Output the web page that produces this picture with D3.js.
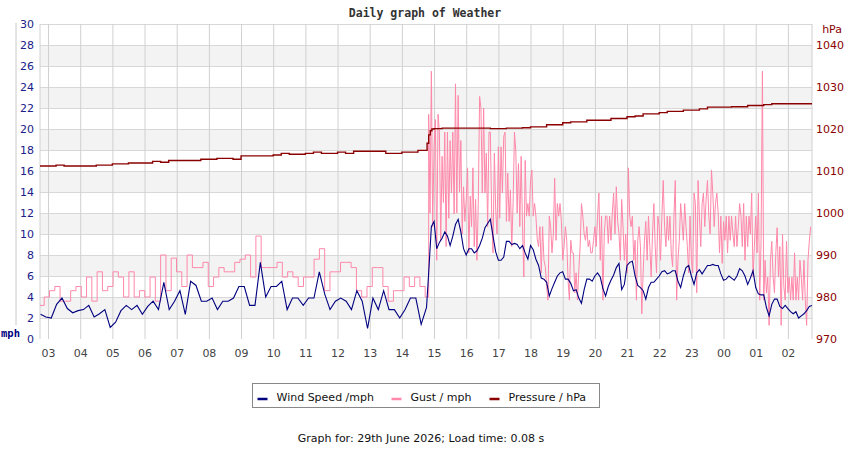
<!DOCTYPE html>
<html>
<head>
<meta charset="utf-8">
<script src="https://cdn.jsdelivr.net/npm/d3@7"></script>
<style>
  body { margin: 0; background: #fff; }
  svg { display: block; font-family: "DejaVu Sans", sans-serif; }
</style>
</head>
<body>
<script>
// wind speed, mph - 10 minute readings from 02:46
const windEarly = [
  2.35, 2.1, 2.0, 3.3, 3.9, 2.9, 2.5, 2.7, 2.8, 3.2,
  2.1, 2.4, 2.8, 1.1, 1.6, 2.7, 3.2, 2.8, 3.2, 2.35,
  3.1, 3.6, 2.8, 5.4, 2.8, 3.6, 4.6, 2.35, 5.5, 5.1,
  3.6, 3.6, 3.9, 2.8, 3.6, 3.6, 3.9, 5.0, 5.0, 3.2,
  3.2, 7.3, 4.0, 5.0, 5.0, 5.5, 2.8, 3.9, 3.9, 3.2,
  3.9, 3.9, 6.4, 4.3, 2.8, 3.6, 3.9, 3.6, 2.8, 4.6,
  3.6, 1.0, 3.9, 2.8, 4.6, 2.8, 2.8, 2.0, 2.8, 3.9,
  3.9, 1.4, 3.0
];
// wind speed, mph - 5 minute readings from 14:50
const windLate = [
  6.3, 10.7, 11.2, 8.6, 9.2, 9.6, 10.2, 9.8, 8.9, 9.8,
  10.9, 11.4, 10.2, 8.6, 8.0, 8.6, 8.6, 8.2, 8.4, 8.9,
  9.6, 10.6, 11.0, 11.4, 9.8, 8.3, 7.5, 7.5, 7.8, 9.3,
  9.3, 9.0, 9.1, 9.0, 8.6, 8.9, 8.2, 7.6, 8.9, 8.5,
  7.6, 7.0, 5.8, 5.7, 5.4, 4.1, 4.8, 5.4, 6.0, 6.3,
  6.4, 5.7, 5.7, 5.3, 4.6, 4.7, 3.9, 3.4, 4.7, 5.7,
  5.7, 5.5, 6.0, 6.3, 5.9, 4.8, 4.1, 5.0, 5.6, 6.1,
  6.8, 7.2, 4.7, 5.2, 7.0, 7.3, 7.4, 6.0, 5.1, 4.9,
  4.6, 3.8, 4.9, 5.4, 5.4, 5.7, 6.0, 6.4, 6.5, 6.2,
  6.3, 6.5, 6.5, 5.5, 4.9, 6.0, 6.8, 7.0, 6.0, 5.2,
  6.3, 6.6, 6.2, 6.6, 7.0, 7.0, 7.1, 7.0, 7.0, 6.2,
  5.6, 5.7, 6.0, 5.8, 5.6, 6.0, 6.7, 6.5, 6.0, 5.2,
  5.8, 6.5, 4.9, 4.3, 4.2, 4.2, 3.0, 2.2, 3.3, 3.8,
  3.8, 3.1, 2.9, 3.2, 2.9, 2.6, 2.4, 2.6, 2.0, 2.2,
  2.4, 2.7, 3.1, 3.2
];
// gust, mph - readings from 02:43, just under 10 minutes apart
const gustEarly = [
  3.2, 4.0, 4.6, 5.0, 3.6, 3.6, 4.6, 5.0, 4.0, 5.9,
  3.6, 6.4, 4.6, 5.0, 6.4, 5.9, 4.0, 6.4, 4.0, 4.6,
  4.0, 5.9, 3.6, 8.0, 4.6, 7.7, 6.4, 5.0, 8.0, 6.8,
  6.8, 7.3, 5.0, 5.9, 6.8, 6.4, 6.4, 7.3, 7.6, 8.0,
  5.9, 9.8, 6.8, 6.8, 6.8, 7.3, 5.9, 6.4, 5.9, 5.0,
  5.9, 5.9, 7.6, 8.6, 4.6, 6.4, 6.4, 7.3, 7.3, 6.8,
  4.6, 4.0, 5.0, 6.8, 6.8, 5.0, 3.6, 4.6, 4.6, 5.9,
  5.0, 5.9, 5.0, 4.0
];
// gust, mph - 2.5 minute readings from 14:50
const gustLate = [
  21.4, 12.0, 25.5, 10.7, 18.3, 20.9, 7.5, 21.4, 19.7, 9.4,
  17.4, 13.0, 19.7, 8.8, 19.7, 11.5, 18.9, 13.9, 19.7, 11.9,
  24.3, 12.0, 23.2, 14.0, 18.9, 10.0, 14.5, 11.2, 13.3, 16.3,
  8.2, 13.6, 10.7, 16.3, 8.8, 13.3, 7.5, 12.9, 23.1, 22.0,
  13.9, 22.0, 13.9, 17.7, 10.7, 19.7, 19.7, 12.0, 8.2, 17.7,
  12.3, 10.0, 18.3, 11.5, 18.3, 13.9, 19.3, 19.7, 11.2, 15.8,
  11.2, 14.2, 8.8, 13.0, 19.7, 17.9, 12.0, 16.7, 10.7, 17.4,
  10.7, 5.9, 17.0, 11.7, 12.9, 11.7, 15.1, 16.1, 11.7, 12.9,
  11.7, 9.5, 8.8, 10.7, 6.3, 10.7, 7.5, 6.9, 5.0, 3.7,
  11.7, 10.7, 8.2, 10.0, 15.3, 9.4, 12.9, 11.7, 12.9, 11.2,
  7.5, 8.8, 10.7, 9.4, 5.6, 3.7, 9.4, 8.2, 8.2, 4.4,
  6.3, 3.7, 6.5, 8.8, 12.9, 11.7, 10.0, 9.4, 10.7, 8.8,
  9.4, 8.2, 8.2, 9.4, 10.7, 8.8, 11.7, 13.9, 7.5, 11.7,
  3.7, 10.0, 11.7, 11.7, 9.1, 11.7, 9.4, 12.0, 13.9, 10.0,
  14.5, 11.2, 10.0, 7.5, 13.3, 10.7, 7.5, 10.0, 6.3, 16.3,
  11.7, 10.7, 11.7, 7.5, 9.4, 3.7, 9.4, 10.7, 8.8, 2.4,
  6.3, 9.4, 11.2, 7.5, 11.7, 8.8, 5.9, 10.0, 12.9, 8.8,
  6.3, 11.7, 10.7, 7.5, 11.7, 15.1, 10.7, 8.8, 11.7, 9.4,
  11.7, 8.2, 6.9, 11.7, 15.1, 3.7, 7.5, 9.4, 12.9, 11.2,
  9.4, 12.9, 10.7, 8.8, 6.3, 11.7, 7.5, 6.3, 13.9, 12.9,
  4.4, 15.1, 11.7, 8.8, 12.9, 13.9, 10.7, 13.3, 15.1, 11.7,
  10.0, 16.1, 13.9, 10.7, 12.9, 13.9, 12.0, 8.2, 11.7, 7.2,
  11.2, 9.4, 11.7, 8.2, 11.7, 9.4, 11.7, 10.0, 8.8, 11.7,
  8.8, 10.7, 12.9, 11.7, 8.8, 12.9, 7.5, 11.7, 8.8, 11.7,
  10.0, 13.9, 5.9, 8.8, 11.7, 8.2, 13.9, 3.7, 9.4, 25.5,
  3.7, 7.5, 4.4, 5.9, 1.3, 7.5, 9.3, 5.9, 4.4, 8.2,
  10.6, 5.9, 8.8, 1.3, 10.0, 5.0, 3.7, 9.3, 4.4, 5.9,
  3.7, 5.9, 3.7, 8.2, 3.7, 5.9, 3.7, 7.5, 5.9, 3.7,
  7.5, 3.7, 1.3, 7.5, 9.3, 10.7
];
// pressure, hPa - 15 minute readings from 02:45
const pressureEarly = [
  1011.2, 1011.2, 1011.4, 1011.2, 1011.2, 1011.2, 1011.2, 1011.4, 1011.4, 1011.7,
  1011.7, 1011.9, 1011.9, 1011.9, 1012.3, 1012.1, 1012.5, 1012.5, 1012.5, 1012.5,
  1012.8, 1012.8, 1013.0, 1013.0, 1012.8, 1013.6, 1013.6, 1013.6, 1013.6, 1013.8,
  1014.2, 1014.0, 1014.0, 1014.2, 1014.5, 1014.2, 1014.2, 1014.5, 1014.2, 1014.7,
  1014.7, 1014.7, 1014.7, 1014.2, 1014.2, 1014.5, 1014.5, 1014.9, 1014.9
];
// pressure, hPa - 3 minute readings from 14:47 (the jump)
const pressureRise = [1016.6, 1018.6, 1019.6, 1020.0];
// pressure, hPa - 15 minute readings from 15:00
const pressureLate = [
  1020.1, 1020.2, 1020.2, 1020.2, 1020.2, 1020.2, 1020.2, 1020.1, 1020.1, 1020.2,
  1020.2, 1020.3, 1020.5, 1020.5, 1021.0, 1021.0, 1021.5, 1021.7, 1021.7, 1022.1,
  1022.1, 1022.1, 1022.5, 1022.5, 1022.9, 1023.1, 1023.6, 1023.6, 1023.9, 1024.2,
  1024.2, 1024.5, 1024.5, 1024.8, 1025.2, 1025.2, 1025.2, 1025.3, 1025.3, 1025.6,
  1025.6, 1025.8, 1026.0, 1026.0, 1026.0, 1026.0, 1026.0, 1026.0
];

const mphTicks = [0, 2, 4, 6, 8, 10, 12, 14, 16, 18, 20, 22, 24, 26, 28, 30];
const hpaTicks = [970, 980, 990, 1000, 1010, 1020, 1030, 1040];
const legendItems = [
  { label: "Wind Speed /mph", color: "#000080" },
  { label: "Gust / mph", color: "#ff88aa" },
  { label: "Pressure / hPa", color: "#8b0000" }
];

const parse = d3.timeParse("%Y-%m-%d %H:%M");
const series = (start, stepMin, values) => {
  const t0 = parse(start);
  return values.map((v, i) => ({ t: new Date(+t0 + i * stepMin * 60000), v }));
};

const wind = series("2026-06-28 02:46", 10, windEarly)
  .concat(series("2026-06-28 14:50", 5, windLate));
const gustA = series("2026-06-28 02:43", 9.87, gustEarly);
const gustB = series("2026-06-28 14:50", 2.5, gustLate);
const pressure = series("2026-06-28 02:45", 15, pressureEarly)
  .concat(series("2026-06-28 14:47", 3, pressureRise))
  .concat(series("2026-06-28 15:00", 15, pressureLate));

const margin = { top: 24, right: 38, bottom: 111, left: 40 },
  width = 850 - margin.left - margin.right,
  height = 450 - margin.top - margin.bottom;

const x = d3.scaleTime()
  .domain([parse("2026-06-28 02:45"), parse("2026-06-29 02:45")])
  .range([0, width]);
const yL = d3.scaleLinear().domain([0, 30]).range([height, 0]);
const yR = d3.scaleLinear().domain([970, 1045]).range([height, 0]);

const svg = d3.select("body").append("svg")
  .attr("width", 850)
  .attr("height", 450);

svg.append("text")
  .attr("x", 425).attr("y", 17)
  .attr("text-anchor", "middle")
  .style("font-family", "'DejaVu Sans Mono', monospace")
  .style("font-weight", "bold")
  .style("font-size", "11.5px")
  .attr("fill", "#333")
  .text("Daily graph of Weather");

// odd little rule left of the scale
svg.append("line")
  .attr("x1", 16).attr("x2", 16).attr("y1", 23).attr("y2", 325)
  .attr("stroke", "#c8c8c8");

const g = svg.append("g")
  .attr("transform", `translate(${margin.left},${margin.top})`);

// shaded bands every other 2 mph
g.selectAll(".band")
  .data(mphTicks.filter((d, i) => i % 2 === 1 && d < 30))
  .join("rect")
    .attr("class", "band")
    .attr("x", 0)
    .attr("width", width)
    .attr("y", d => yL(d + 2))
    .attr("height", d => yL(d) - yL(d + 2))
    .attr("fill", "#f3f3f3");

// grid
g.append("g")
  .call(d3.axisLeft(yL).tickValues(mphTicks.slice(1)).tickSize(-width).tickFormat(""))
  .call(a => a.select(".domain").remove())
  .call(a => a.selectAll(".tick line").attr("stroke", "#d8d8d8"));

const hours = d3.timeHour.range(x.domain()[0], x.domain()[1]);
g.append("g")
  .attr("transform", `translate(0,${height})`)
  .call(d3.axisBottom(x).tickValues(hours).tickSize(-height).tickFormat(""))
  .call(a => a.select(".domain").remove())
  .call(a => a.selectAll(".tick line").attr("stroke", "#d0d0d0"));

g.selectAll(".edge")
  .data([0, width])
  .join("line")
    .attr("class", "edge")
    .attr("x1", d => d).attr("x2", d => d)
    .attr("y1", 0).attr("y2", height)
    .attr("stroke", "#d0d0d0");

// axis labels
g.append("g")
  .call(d3.axisLeft(yL).tickValues(mphTicks).tickSize(0).tickPadding(6))
  .call(a => a.select(".domain").remove())
  .call(a => a.selectAll("text")
    .attr("fill", "#20208a")
    .style("font-family", "'DejaVu Sans', sans-serif")
    .style("font-size", "11px"));

g.append("g")
  .attr("transform", `translate(${width},0)`)
  .call(d3.axisRight(yR).tickValues(hpaTicks).tickSize(0).tickPadding(4)
    .tickFormat(d3.format("d")))
  .call(a => a.select(".domain").remove())
  .call(a => a.selectAll("text")
    .attr("fill", "#8b0000")
    .style("font-family", "'DejaVu Sans', sans-serif")
    .style("font-size", "11px"));

g.append("g")
  .attr("transform", `translate(0,${height})`)
  .call(d3.axisBottom(x).tickValues(hours).tickSize(0).tickPadding(10)
    .tickFormat(d3.timeFormat("%H")))
  .call(a => a.select(".domain").remove())
  .call(a => a.selectAll("text")
    .attr("fill", "#444")
    .style("font-family", "'DejaVu Sans', sans-serif")
    .style("font-size", "11px"));

svg.append("text")
  .attr("x", 1).attr("y", 337)
  .style("font-family", "'DejaVu Sans Mono', monospace")
  .style("font-size", "10.5px")
  .style("font-weight", "bold")
  .attr("fill", "#000080")
  .text("mph");

svg.append("text")
  .attr("x", 842).attr("y", 33)
  .attr("text-anchor", "end")
  .style("font-size", "11px")
  .attr("fill", "#8b0000")
  .text("hPa");

// series
g.append("clipPath").attr("id", "plot")
  .append("rect").attr("width", width).attr("height", height);

const plot = g.append("g").attr("clip-path", "url(#plot)");

const mphLine = curve => d3.line()
  .x(d => x(d.t))
  .y(d => yL(d.v))
  .curve(curve);

// gusts: held steps while calm, then a raw trace once the wind picks up
plot.append("path")
  .datum(gustA.concat(gustB.slice(0, 1)))
  .attr("fill", "none")
  .attr("stroke", legendItems[1].color)
  .attr("stroke-width", 1)
  .attr("d", mphLine(d3.curveStepAfter));

plot.append("path")
  .datum(gustB)
  .attr("fill", "none")
  .attr("stroke", legendItems[1].color)
  .attr("stroke-width", 1)
  .attr("d", mphLine(d3.curveLinear));

plot.append("path")
  .datum(wind)
  .attr("fill", "none")
  .attr("stroke", legendItems[0].color)
  .attr("stroke-width", 1.1)
  .attr("d", mphLine(d3.curveLinear));

plot.append("path")
  .datum(pressure)
  .attr("fill", "none")
  .attr("stroke", legendItems[2].color)
  .attr("stroke-width", 1.4)
  .attr("d", d3.line()
    .x(d => x(d.t))
    .y(d => yR(d.v))
    .curve(d3.curveStepAfter));

// legend
const legend = svg.append("g").attr("transform", "translate(252.5,383.5)");
legend.append("rect")
  .attr("width", 347).attr("height", 24)
  .attr("fill", "#fff")
  .attr("stroke", "#888");

const legendX = [5, 139, 237];
const item = legend.selectAll(".item")
  .data(legendItems)
  .join("g")
    .attr("class", "item")
    .attr("transform", (d, i) => `translate(${legendX[i]},0)`);
item.append("line")
  .attr("x1", 0).attr("x2", 10)
  .attr("y1", 15.5).attr("y2", 15.5)
  .attr("stroke", d => d.color)
  .attr("stroke-width", 2.5);
item.append("text")
  .attr("x", 19).attr("y", 17)
  .style("font-size", "11px")
  .attr("fill", "#111")
  .text(d => d.label);

svg.append("text")
  .attr("x", 421).attr("y", 442)
  .attr("text-anchor", "middle")
  .style("font-size", "11px")
  .attr("fill", "#111")
  .text("Graph for: 29th June 2026; Load time: 0.08 s");
</script>
</body>
</html>
